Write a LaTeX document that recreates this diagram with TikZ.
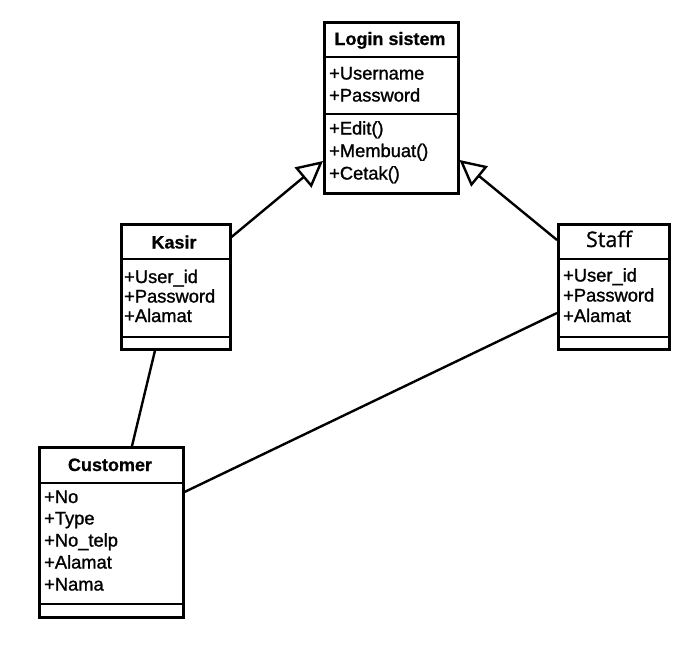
\documentclass[tikz,border=0pt]{standalone}
\usepackage{fontspec}
\setmainfont{Liberation Sans}
\newfontfamily\memberfont[FakeBold=1.2]{Liberation Sans}
\newfontfamily\headfont[FakeBold=0.6]{Liberation Sans Bold}
\newfontfamily\stafffont[FakeBold=0.8]{Open Sans}
\usetikzlibrary{arrows.meta,calc}

\begin{document}
\begin{tikzpicture}[x=1pt,y=-1pt,
  classbox/.style={draw, line width=2.5pt, fill=white, inner sep=0pt, anchor=north west},
  rule/.style={line width=2.5pt},
  head/.style={font=\headfont\fontsize{18}{22}\selectfont, inner sep=0pt, anchor=base},
  attr/.style={font=\memberfont\fontsize{18.3}{22}\selectfont, inner sep=0pt, anchor=base west},
  link/.style={line width=2.4pt},
  inherit/.style={line width=2.4pt, -{Triangle[open, length=26pt, width=26pt, fill=white]}}
]
\useasboundingbox (0,0) rectangle (674,651);

% class boxes
\node[classbox, minimum width=134pt, minimum height=171pt] (login) at (323,21) {};
\node[classbox, minimum width=109pt, minimum height=125pt] (kasir) at (120,223) {};
\node[classbox, minimum width=111pt, minimum height=125pt] (staff) at (557,223) {};
\node[classbox, minimum width=144pt, minimum height=170pt] (customer) at (38,446) {};

% compartment rules
\draw[rule] ($(login.north west)+(0,36)$) -- ($(login.north east)+(0,36)$);
\draw[rule] ($(login.north west)+(0,93)$) -- ($(login.north east)+(0,93)$);
\draw[rule] ($(kasir.north west)+(0,36)$) -- ($(kasir.north east)+(0,36)$);
\draw[rule] ($(kasir.north west)+(0,114)$) -- ($(kasir.north east)+(0,114)$);
\draw[rule] ($(staff.north west)+(0,36)$) -- ($(staff.north east)+(0,36)$);
\draw[rule] ($(staff.north west)+(0,114)$) -- ($(staff.north east)+(0,114)$);
\draw[rule] ($(customer.north west)+(0,37)$) -- ($(customer.north east)+(0,37)$);
\draw[rule] ($(customer.north west)+(0,158)$) -- ($(customer.north east)+(0,158)$);

% class names
\node[head] (login-name) at (390,45) {Login sistem};
\node[head] (kasir-name) at (174,248.5) {Kasir};
\node[head, font=\stafffont\fontsize{21.5}{24}\selectfont] (staff-name) at (609,247) {Staff};
\node[head] (customer-name) at (110,471) {Customer};

% members
\node[attr] (login-a1) at (329,79.5) {+Username};
\node[attr] (login-a2) at (329,101.5) {+Password};
\node[attr] (login-m1) at (329,134.5) {+Edit()};
\node[attr] (login-m2) at (329,157) {+Membuat()};
\node[attr] (login-m3) at (329,179.5) {+Cetak()};

\node[attr] (kasir-a1) at (124,283) {+User\_id};
\node[attr] (kasir-a2) at (124,302.5) {+Password};
\node[attr] (kasir-a3) at (124,322) {+Alamat};

\node[attr] (staff-a1) at (563,281.5) {+User\_id};
\node[attr] (staff-a2) at (563,301.5) {+Password};
\node[attr] (staff-a3) at (563,322) {+Alamat};

\node[attr] (customer-a1) at (44,503) {+No};
\node[attr] (customer-a2) at (44,524.5) {+Type};
\node[attr] (customer-a3) at (44,546.5) {+No\_telp};
\node[attr] (customer-a4) at (44,568.5) {+Alamat};
\node[attr] (customer-a5) at (44,590.5) {+Nama};

% generalisations
\draw[inherit] ($(kasir.north east)+(0,14)$) -- ($(login.north west)+(0,140)$);
\draw[inherit] ($(staff.north west)+(0,17)$) -- ($(login.north east)+(0,139)$);

% associations
\draw[link] ($(kasir.south west)+(35,0)$) -- ($(customer.north west)+(94,0)$);
\draw[link] ($(staff.north west)+(0,90)$) -- ($(customer.north east)+(0,46)$);
\end{tikzpicture}
\end{document}
